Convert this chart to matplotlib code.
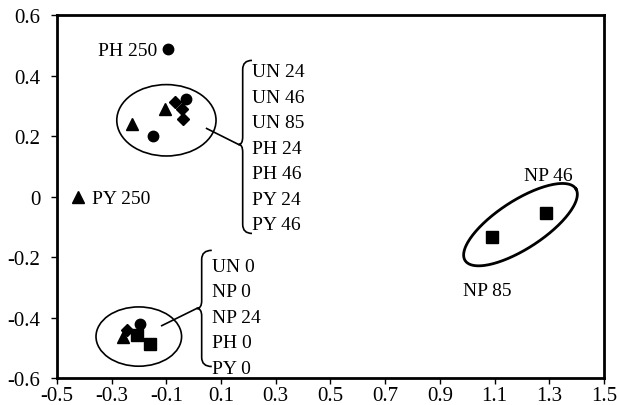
import numpy as np
import matplotlib.pyplot as plt
from matplotlib.patches import Ellipse, PathPatch
from matplotlib.path import Path

plt.rcParams['font.family'] = ['Liberation Serif', 'DejaVu Serif']

# ---- data ----
# upper cluster: UN 24/46/85, PH 24/46, PY 24/46
un_x = [-0.069, -0.044, -0.041, -0.245]
un_y = [0.311, 0.289, 0.256, -0.440]
ph_x = [-0.150, -0.028, -0.094, -0.197]
ph_y = [0.200, 0.322, 0.489, -0.420]
py_x = [-0.227, -0.105, -0.423, -0.258]
py_y = [0.241, 0.291, 0.000, -0.464]
np_x = [-0.209, -0.160, 1.288, 1.089]
np_y = [-0.458, -0.486, -0.056, -0.133]

upper_labels = ["UN 24", "UN 46", "UN 85", "PH 24", "PH 46", "PY 24", "PY 46"]
lower_labels = ["UN 0", "NP 0", "NP 24", "PH 0", "PY 0"]

xticks = [-0.5, -0.3, -0.1, 0.1, 0.3, 0.5, 0.7, 0.9, 1.1, 1.3, 1.5]
yticks = [-0.6, -0.4, -0.2, 0, 0.2, 0.4, 0.6]


def brace(ax, x, top, bottom, tip, tipx, endx, r=0.03, rt=0.025):
    verts = [(endx, top), (x, top), (x, top - r),
             (x, tip + rt), (x, tip), (tipx, tip),
             (x, tip), (x, tip - rt),
             (x, bottom + r), (x, bottom), (endx, bottom)]
    codes = [Path.MOVETO, Path.CURVE3, Path.CURVE3,
             Path.LINETO, Path.CURVE3, Path.CURVE3,
             Path.CURVE3, Path.CURVE3,
             Path.LINETO, Path.CURVE3, Path.CURVE3]
    ax.add_patch(PathPatch(Path(verts, codes), fill=False, lw=1.2, color='black'))


fig = plt.figure(figsize=(6.2, 4.06), dpi=100)
ax = fig.add_axes([0.092, 0.0665, 0.882, 0.894])

ax.plot(un_x, un_y, 'D', color='black', ms=6)
ax.plot(ph_x, ph_y, 'o', color='black', ms=7.5)
ax.plot(py_x, py_y, '^', color='black', ms=8.5)
ax.plot(np_x, np_y, 's', color='black', ms=8.5)

# circled groups
ax.add_patch(Ellipse((-0.100, 0.252), 0.363, 0.236, fill=False, lw=1.2))
ax.add_patch(Ellipse((-0.201, -0.463), 0.313, 0.196, fill=False, lw=1.2))
# tilted ellipse around NP 46 / NP 85 (drawn in pixel-like space)
t = np.linspace(0, 2 * np.pi, 200)
a, b, ang = 66, 24, np.deg2rad(33)
px = a * np.cos(t) * np.cos(ang) - b * np.sin(t) * np.sin(ang)
py = a * np.cos(t) * np.sin(ang) + b * np.sin(t) * np.cos(ang)
ax.plot(1.195 + px / 273.5, -0.093 + py / 302.5, color='black', lw=2)

# braces + connectors
brace(ax, 0.179, 0.450, -0.122, 0.172, 0.164, 0.213)
ax.plot([0.047, 0.164], [0.225, 0.172], color='black', lw=1.2)
brace(ax, 0.029, -0.178, -0.562, -0.370, 0.011, 0.066)
ax.plot([-0.117, 0.011], [-0.427, -0.370], color='black', lw=1.2)

fs = 14
for i, lab in enumerate(upper_labels):
    ax.text(0.213, 0.413 - i * 0.0843, lab, fontsize=fs, va='center')
for i, lab in enumerate(lower_labels):
    ax.text(0.067, -0.231 - i * 0.0843, lab, fontsize=fs, va='center')

ax.text(-0.135, 0.482, "PH 250", fontsize=fs, va='center', ha='right')
ax.text(-0.372, -0.008, "PY 250", fontsize=fs, va='center')
ax.text(1.295, 0.07, "NP 46", fontsize=fs, va='center', ha='center')
ax.text(1.072, -0.311, "NP 85", fontsize=fs, va='center', ha='center')

ax.set_xlim(-0.5, 1.5)
ax.set_ylim(-0.6, 0.6)
ax.set_xticks(xticks)
ax.set_xticklabels([f"{v:g}" for v in xticks])
ax.set_yticks(yticks)
ax.set_yticklabels(["0" if v == 0 else f"{v:.1f}" for v in yticks])
ax.tick_params(labelsize=15, length=4, width=1, direction='out')
ax.tick_params(axis='x', pad=2)
ax.tick_params(axis='y', pad=8)
for s in ax.spines.values():
    s.set_linewidth(2)

fig.savefig("out.png", dpi=100)
